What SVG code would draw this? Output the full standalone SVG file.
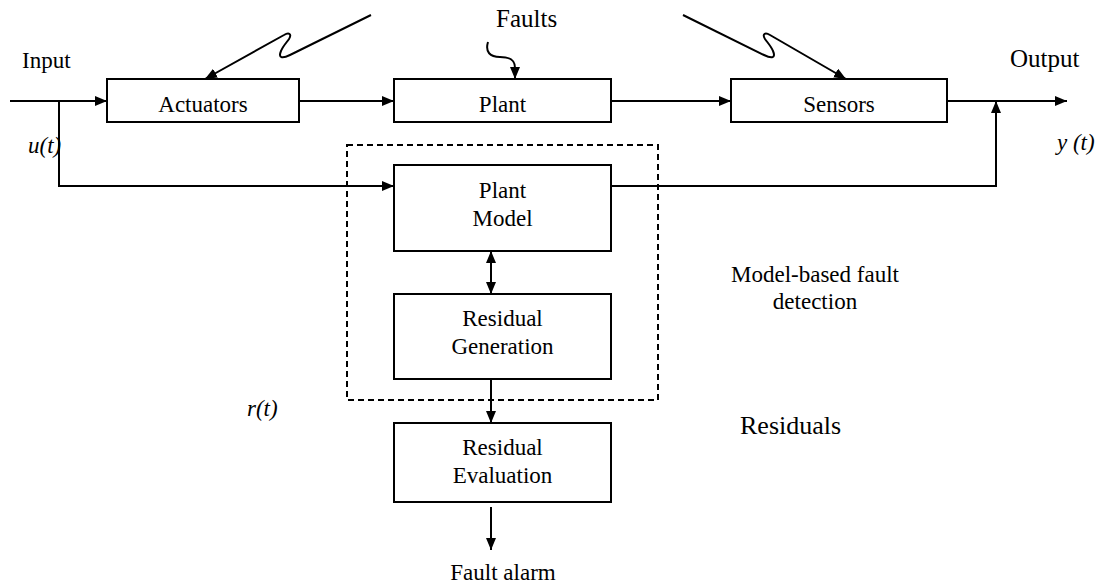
<svg xmlns="http://www.w3.org/2000/svg" width="1101" height="586" viewBox="0 0 1101 586">
  <defs>
    <marker id="arrow" markerUnits="userSpaceOnUse" markerWidth="12" markerHeight="10" refX="12" refY="5" orient="auto">
      <path d="M0,0 L12,5 L0,10 z" fill="#000"/>
    </marker>
    <marker id="arrow-start" markerUnits="userSpaceOnUse" markerWidth="12" markerHeight="10" refX="0" refY="5" orient="auto">
      <path d="M12,0 L0,5 L12,10 z" fill="#000"/>
    </marker>
    <style>
      .box { fill: #fff; stroke: #000; stroke-width: 2; }
      .wire { fill: none; stroke: #000; stroke-width: 2; }
      .arr { marker-end: url(#arrow); }
      .frame { fill: none; stroke: #000; stroke-width: 2; stroke-dasharray: 6 4; }
      text { font-family: "Liberation Serif", "Times New Roman", serif; font-size: 23px; fill: #000; }
      .c { text-anchor: middle; }
      .i { font-style: italic; }
    </style>
  </defs>
  <rect width="1101" height="586" fill="#fff"/>

  <!-- model-based fault detection frame -->
  <rect id="detection-frame" class="frame" x="347" y="145" width="311" height="255"/>

  <g id="connectors">
    <!-- forward path -->
    <path class="wire arr" d="M10,101 H107"/>
    <path class="wire arr" d="M299,101 H394"/>
    <path class="wire arr" d="M611,101 H731"/>
    <path class="wire arr" d="M947,101 H1067"/>
    <!-- input branch to plant model -->
    <path class="wire arr" d="M59,101 V186 H394"/>
    <!-- model output joining the measured output -->
    <path class="wire arr" d="M611,186 H996 V101"/>
    <!-- model / residual generation link -->
    <path class="wire arr" d="M491,251 V294" marker-start="url(#arrow-start)"/>
    <path class="wire arr" d="M491,379 V423"/>
    <path class="wire arr" d="M491,507 V550"/>
    <!-- fault inputs (lightning-style) -->
    <path class="wire arr" d="M371,15 L290,55 C282,59 278,58 281,51 C283,46 287,42 289,39 C292,34 289,32 284,35 L205,79"/>
    <path class="wire arr" d="M683,15 L764,55 C772,59 776,58 773,51 C771,46 767,42 765,39 C762,34 765,32 770,35 L846,79"/>
    <path class="wire arr" d="M488,42 C485,52 490,57 500,57 C510,57 515,60 515,68 V79"/>
  </g>

  <g id="actuators">
    <rect class="box" x="107" y="79" width="192" height="43"/>
    <text class="c" x="203" y="112">Actuators</text>
  </g>
  <g id="plant">
    <rect class="box" x="394" y="79" width="217" height="43"/>
    <text class="c" x="502.5" y="112">Plant</text>
  </g>
  <g id="sensors">
    <rect class="box" x="731" y="79" width="216" height="43"/>
    <text class="c" x="839" y="112">Sensors</text>
  </g>
  <g id="plant-model">
    <rect class="box" x="394" y="165" width="217" height="86"/>
    <text class="c" x="502.5" y="198">Plant</text>
    <text class="c" x="502.5" y="226">Model</text>
  </g>
  <g id="residual-generation">
    <rect class="box" x="394" y="294" width="217" height="85"/>
    <text class="c" x="502.5" y="326">Residual</text>
    <text class="c" x="502.5" y="354">Generation</text>
  </g>
  <g id="residual-evaluation">
    <rect class="box" x="394" y="423" width="217" height="79"/>
    <text class="c" x="502.5" y="455">Residual</text>
    <text class="c" x="502.5" y="483">Evaluation</text>
  </g>

  <g id="labels">
    <text x="22" y="68">Input</text>
    <text x="1010" y="67" style="font-size:25px">Output</text>
    <text x="496" y="27" style="font-size:25px">Faults</text>
    <text class="i" x="28" y="153">u(t)</text>
    <text class="i" x="1057" y="150">y (t)</text>
    <text class="i" x="247" y="416">r(t)</text>
    <text class="c" x="815" y="282">Model-based fault</text>
    <text class="c" x="815" y="309">detection</text>
    <text x="740" y="434" style="font-size:26px">Residuals</text>
    <text class="c" x="503" y="580">Fault alarm</text>
  </g>
</svg>
